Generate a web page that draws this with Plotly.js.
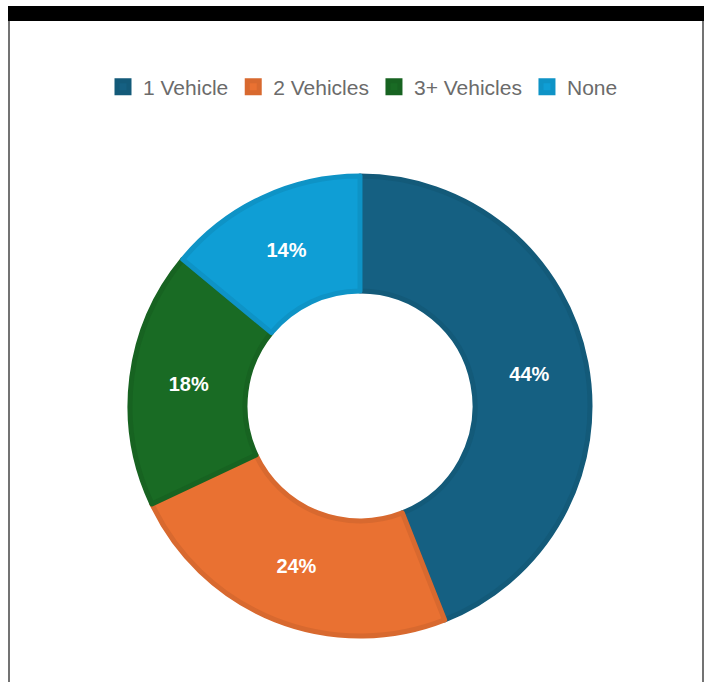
<!DOCTYPE html>
<html>
<head>
<meta charset="utf-8">
<script src="https://cdn.plot.ly/plotly-3.0.1.min.js"></script>
<style>
html,body{margin:0;padding:0;background:#fff;}
#chart{width:710px;height:682px;}
</style>
</head>
<body>
<div id="chart"></div>
<script>
const categories = ["1 Vehicle", "2 Vehicles", "3+ Vehicles", "None"];
const shares = [44, 24, 18, 14];
const fillColors = ["#156082", "#E97132", "#196B24", "#0F9ED5"];
const edgeColors = ["#135a79", "#d8692f", "#176321", "#0e93c6"];

const W = 710, H = 682;
const cx = 360, cy = 406, r = 230;

const trace = {
  type: "pie",
  labels: categories,
  values: shares,
  sort: false,
  direction: "clockwise",
  rotation: 0,
  hole: 0.5,
  marker: { colors: fillColors, line: { color: edgeColors, width: 5 } },
  textinfo: "percent",
  textposition: "inside",
  insidetextorientation: "horizontal",
  textfont: { family: "Liberation Sans, Arial, sans-serif", size: 20, color: "#ffffff", weight: "bold" },
  domain: { x: [(cx - r) / W, (cx + r) / W], y: [(H - cy - r) / H, (H - cy + r) / H] },
  hoverinfo: "label+percent"
};

const layout = {
  width: W, height: H,
  margin: { l: 0, r: 0, t: 0, b: 0 },
  paper_bgcolor: "#ffffff",
  showlegend: true,
  legend: {
    orientation: "h",
    x: 363 / W, xanchor: "center",
    y: 1 - 87 / H, yanchor: "middle",
    font: { family: "Liberation Sans, Arial, sans-serif", size: 21, color: "#6b6b6b" },
    itemclick: false,
    traceorder: "normal"
  },
  shapes: [
    { type: "rect", xref: "paper", yref: "paper", x0: 8 / W, x1: 704 / W, y0: 1 - 21 / H, y1: 1 - 6 / H, fillcolor: "#000000", line: { width: 0 } },
    { type: "line", xref: "paper", yref: "paper", x0: 9 / W, x1: 9 / W, y0: 0, y1: 1 - 21 / H, line: { color: "#444444", width: 1.5 } },
    { type: "line", xref: "paper", yref: "paper", x0: 703 / W, x1: 703 / W, y0: 0, y1: 1 - 21 / H, line: { color: "#444444", width: 1.5 } }
  ]
};

Plotly.newPlot("chart", [trace], layout, { displayModeBar: false, staticPlot: true });
</script>
</body>
</html>
